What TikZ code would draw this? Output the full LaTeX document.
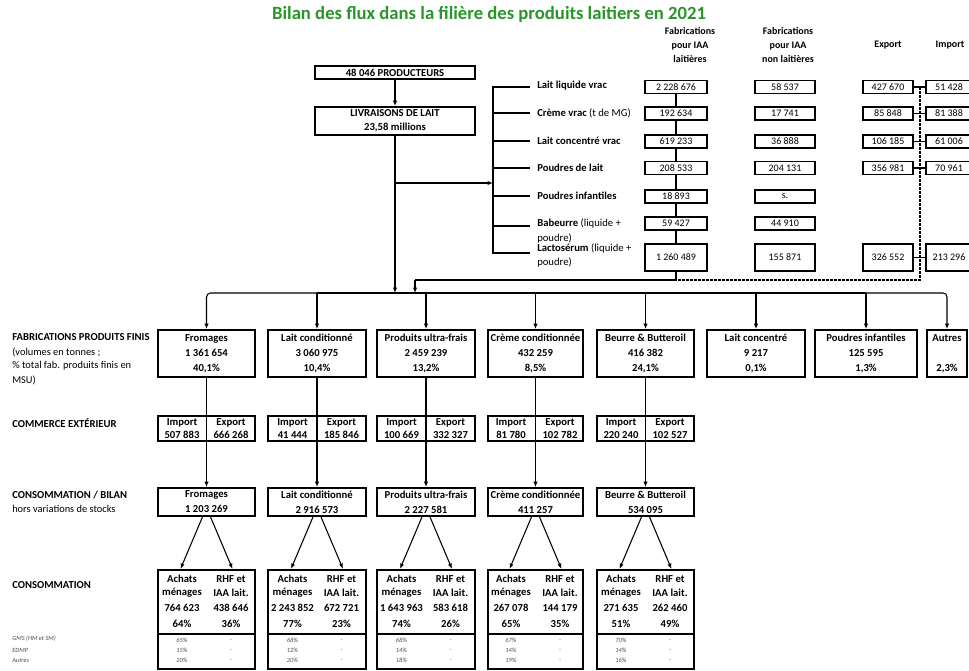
\documentclass[tikz,border=0pt]{standalone}
\usepackage{fontspec}
\setmainfont{Carlito}
\usetikzlibrary{arrows.meta}
\definecolor{titlegreen}{RGB}{40,150,40}
\begin{document}
\begin{tikzpicture}[x=0.75pt,y=-0.75pt,
  every node/.style={inner sep=0pt, font=\fontsize{8}{11.25}\selectfont\bfseries},
  bw/.style={minimum width=#1*0.75pt},
  bh/.style={minimum height=#1*0.75pt},
  bx/.style={draw, line width=1.4pt, align=center},
  thinbx/.style={draw, line width=1.2pt, align=center, font=\fontsize{7.5}{9}\selectfont},
  conn/.style={line width=0.8pt},
  arr/.style={conn, -{Latex[length=4pt,width=3.2pt]}},
  dsh/.style={line width=0.8pt, dash pattern=on 2pt off 1pt},
  lab/.style={anchor=west},
  note/.style={anchor=west, font=\fontsize{7.8}{9}\selectfont},
  tinyt/.style={font=\fontsize{4.8}{5}\selectfont\itshape, text=black!70},
]
\useasboundingbox (0,0) rectangle (969,670);
\clip (0,0) rectangle (969,670);

% Title and headers
\node[text=titlegreen, font=\fontsize{14}{16}\selectfont\bfseries] (title) at (489,14) {Bilan des flux dans la filière des produits laitiers en 2021};
\node[align=center, font=\fontsize{7.5}{10.5}\selectfont\bfseries] (h1) at (690,45) {Fabrications\\pour IAA\\laitières};
\node[align=center, font=\fontsize{7.5}{10.5}\selectfont\bfseries] (h2) at (788,45) {Fabrications\\pour IAA\\non laitières};
\node[font=\fontsize{7.5}{10.5}\selectfont\bfseries] (h3) at (888,45) {Export};
\node[font=\fontsize{7.5}{10.5}\selectfont\bfseries] (h4) at (950,45) {Import};

% Producers
\node[bx, bw=160, bh=13] (prod) at (395,72.5) {48 046 PRODUCTEURS};
\node[bx, bw=160, bh=28, font=\fontsize{8}{10.5}\selectfont\bfseries] (livr) at (395,121) {LIVRAISONS DE LAIT\\23,58 millions};
\draw[arr] (prod) -- (livr);

\coordinate (bar) at (0,293);
\coordinate (brk) at (493,183);
\draw[arr] (livr.south) -- (livr.south |- bar);
\draw[arr] (livr.south |- brk) -- (brk);

% Bracket and row labels
\draw[conn] (530,87) -- (493,87) -- (493,253) -- (530,253);
\foreach \y in {113,141,168,196,226} \draw[conn] (493,\y) -- (530,\y);
\node[lab] (r1) at (537,86) {Lait liquide vrac};
\node[lab] (r2) at (537,113) {Crème vrac {\mdseries (t de MG)}};
\node[lab] (r3) at (537,141) {Lait concentré vrac};
\node[lab] (r4) at (537,168) {Poudres de lait};
\node[lab] (r5) at (537,196) {Poudres infantiles};
\node[lab, align=left, font=\fontsize{8}{10.6}\selectfont\bfseries] (r6) at (537,231) {Babeurre {\mdseries (liquide +}\\{\mdseries poudre)}};
\node[lab, align=left, font=\fontsize{8}{11}\selectfont\bfseries] (r7) at (537,255.5) {Lactosérum {\mdseries (liquide +}\\{\mdseries poudre)}};

% Table boxes
\foreach \r/\y/\h/\va/\vb in {1/87/13/{2 228 676}/{58 537},2/113.5/13/{192 634}/{17 741},3/141.5/13/{619 233}/{36 888},4/168/13/{208 533}/{204 131},5/196.5/13/{18 893}/{s.},6/223.5/13/{59 427}/{44 910},7/257.5/27/{1 260 489}/{155 871}}{
  \node[thinbx, bw=62, bh=\h] (c1r\r) at (676,\y) {\va};
  \node[thinbx, bw=60, bh=\h] (c2r\r) at (785,\y) {\vb};
}
\foreach \r/\y/\h/\va/\vb in {1/87/13/{427 670}/{51 428},2/113.5/13/{85 848}/{81 388},3/141.5/13/{106 185}/{61 006},4/168/13/{356 981}/{70 961},7/257.5/27/{326 552}/{213 296}}{
  \node[thinbx, bw=50, bh=\h] (ex\r) at (888,\y) {\va};
  \node[thinbx, bw=46, bh=\h] (im\r) at (949,\y) {\vb};
  \draw[conn] (ex\r.east) -- (im\r.west);
}
\foreach \r/\n in {1/2,2/3,3/4,4/5,5/6,6/7} \draw[conn] (c1r\r.south) -- (c1r\n.north);
\coordinate (ret) at (415,280);
\coordinate (dv) at (920,280);
\draw[conn] (c1r7.south) -- (c1r7.south |- ret) -- (ret);
\draw[arr] (ret) -- (ret |- bar);
\draw[dsh] (dv |- ex1.east) -- (dv) -- (c1r7.south |- dv);

% Finished products
\foreach \i/\cx/\w/\nm/\vl/\pc in {1/206.5/97/{Fromages}/{1 361 654}/{40,1\%},2/317/98/{Lait conditionné}/{3 060 975}/{10,4\%},3/426/98/{Produits ultra-frais}/{2 459 239}/{13,2\%},4/535.5/95/{Crème conditionnée}/{432 259}/{8,5\%},5/645.5/97/{Beurre \& Butteroil}/{416 382}/{24,1\%},6/756/98/{Lait concentré}/{9 217}/{0,1\%},7/866/102/{Poudres infantiles}/{125 595}/{1,3\%},8/947/40/{Autres}/{~}/{2,3\%}}{
  \node[bx, bw=\w, bh=47] (fab\i) at (\cx,353.5) {\nm\\\vl\\\pc};
}
\draw[arr, rounded corners=3pt] (fab2.north |- bar) -- (fab1.north |- bar) -- (fab1.north);
\draw[arr, rounded corners=3pt] (fab7.north |- bar) -- (fab8.north |- bar) -- (fab8.north);
\draw[conn] (fab2.north |- bar) -- (fab7.north |- bar);
\foreach \i in {2,...,7} \draw[arr] (fab\i.north |- bar) -- (fab\i.north);

% Left labels
\node[lab] (l1) at (12,337) {FABRICATIONS PRODUITS FINIS};
\node[note] (l1b) at (12,352) {(volumes en tonnes ;};
\node[note] (l1c) at (12,366) {\% total fab. produits finis en};
\node[note] (l1d) at (12,380) {MSU)};
\node[lab] (l2) at (12,423) {COMMERCE EXTÉRIEUR};
\node[lab] (l3) at (12,495) {CONSOMMATION / BILAN};
\node[note] (l3b) at (12,509) {hors variations de stocks};
\node[lab] (l4) at (12,585) {CONSOMMATION};
\node[tinyt, anchor=west] (g1) at (12,639) {GMS (HM et SM)};
\node[tinyt, anchor=west] (g2) at (12,650) {EDMP};
\node[tinyt, anchor=west] (g3) at (12,660) {Autres};

% Lower chain
\foreach \i/\cx/\w/\im/\ex/\bn/\bv/\va/\vb/\pa/\pb/\ga/\gb/\gc in {%
1/206.5/97/{507 883}/{666 268}/{Fromages}/{1 203 269}/{764 623}/{438 646}/{64\%}/{36\%}/{65\%}/{15\%}/{20\%},%
2/317/98/{41 444}/{185 846}/{Lait conditionné}/{2 916 573}/{2 243 852}/{672 721}/{77\%}/{23\%}/{68\%}/{12\%}/{20\%},%
3/426/98/{100 669}/{332 327}/{Produits ultra-frais}/{2 227 581}/{1 643 963}/{583 618}/{74\%}/{26\%}/{68\%}/{14\%}/{18\%},%
4/535.5/95/{81 780}/{102 782}/{Crème conditionnée}/{411 257}/{267 078}/{144 179}/{65\%}/{35\%}/{67\%}/{14\%}/{19\%},%
5/645.5/97/{220 240}/{102 527}/{Beurre \& Butteroil}/{534 095}/{271 635}/{262 460}/{51\%}/{49\%}/{70\%}/{14\%}/{16\%}}{
  \node[bx, bw=\w, bh=25] (com\i) at (\cx,428.5) {};
  \node (cil\i) at (\cx-24.5,422.5) {Import};
  \node (civ\i) at (\cx-24.5,435) {\im};
  \node (cel\i) at (\cx+24.5,422.5) {Export};
  \node (cev\i) at (\cx+24.5,435) {\ex};
  \draw[conn] (fab\i.south) -- (com\i.north) -- (com\i.south);
  \node[bx, bw=\w, bh=28, font=\fontsize{8}{11.25}\selectfont\bfseries] (bil\i) at (\cx,502) {\bn\\\bv};
  \draw[arr] (com\i.south) -- (bil\i.north);
  \node[draw, line width=1.6pt, bw=\w, bh=99] (con\i) at (\cx,619.5) {};
  \draw[conn] (con\i.west |- 0,634) -- (con\i.east |- 0,634);
  \draw[arr] ([xshift=-3pt]bil\i.south) -- ([xshift=-19.5pt]con\i.north);
  \draw[arr] ([xshift=3pt]bil\i.south) -- ([xshift=19.5pt]con\i.north);
  \node (ka\i) at (\cx-24.5,579) {Achats};
  \node (kb\i) at (\cx-24.5,593) {ménages};
  \node (kc\i) at (\cx-24.5,608) {\va};
  \node (kd\i) at (\cx-24.5,624) {\pa};
  \node (ra\i) at (\cx+24.5,579) {RHF et};
  \node (rb\i) at (\cx+24.5,593) {IAA lait.};
  \node (rc\i) at (\cx+24.5,608) {\vb};
  \node (rd\i) at (\cx+24.5,624) {\pb};
  \node[tinyt] (ta\i) at (\cx-24.5,640) {\ga};
  \node[tinyt] (tb\i) at (\cx-24.5,650) {\gb};
  \node[tinyt] (tc\i) at (\cx-24.5,660) {\gc};
  \node[tinyt] (ua\i) at (\cx+24.5,640) {-};
  \node[tinyt] (ub\i) at (\cx+24.5,650) {-};
  \node[tinyt] (uc\i) at (\cx+24.5,660) {-};
}
\end{tikzpicture}
\end{document}
